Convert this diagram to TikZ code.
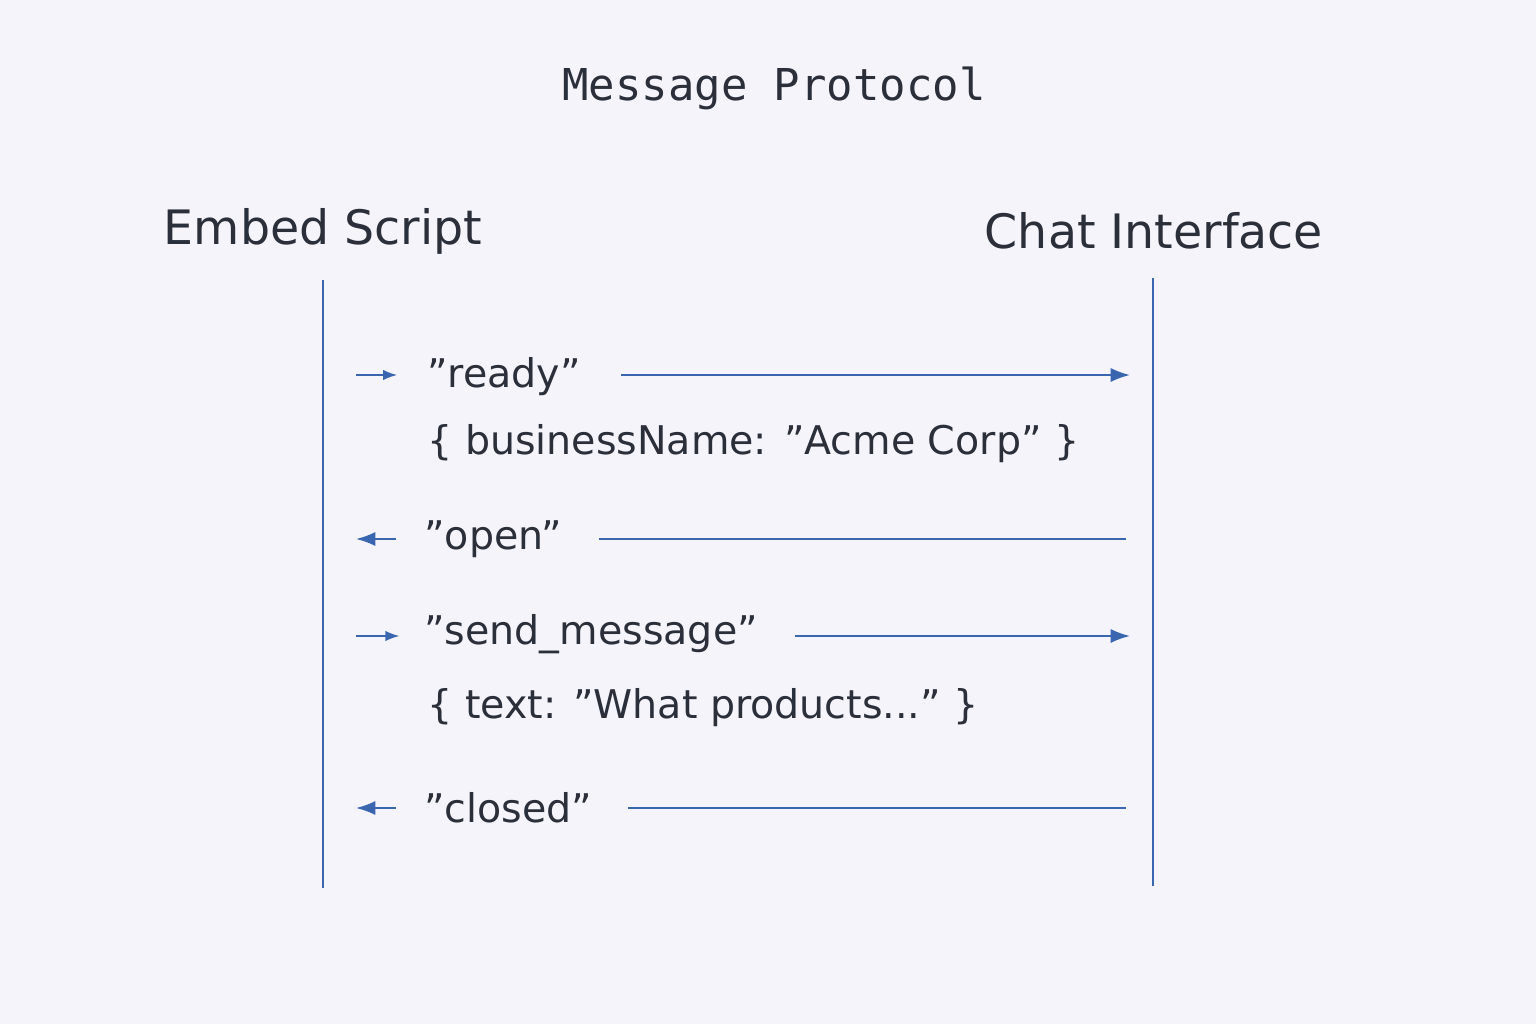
\documentclass[tikz,border=0pt]{standalone}
\usepackage{fontspec}
\setmainfont{DejaVu Sans}
\setmonofont{DejaVu Sans Mono}
\usetikzlibrary{arrows.meta}
\definecolor{bgcol}{HTML}{F4F4FA}
\definecolor{inkcol}{HTML}{2B2F3A}
\definecolor{linecol}{HTML}{3A66B0}
\tikzset{
  lifeline/.style={linecol, line width=1.3pt},
  msg/.style={anchor=west, inner sep=0pt, text=inkcol, font=\fontsize{22.5}{26}\selectfont},
  head/.style={inner sep=0pt, text=inkcol, font=\fontsize{27}{32}\selectfont},
  conn/.style={linecol, line width=1pt},
  tip/.style={conn, -{Latex[length=11pt,width=8pt]}},
  smalltip/.style={conn, -{Latex[length=8pt,width=6pt]}}
}
\begin{document}
\begin{tikzpicture}[x=0.02cm, y=-0.02cm]
  \fill[bgcol] (0,0) rectangle (1536,1024);
  \useasboundingbox (0,0) rectangle (1536,1024);
  % title and headers
  \node[text=inkcol, font=\ttfamily\fontsize{25}{30}\selectfont] (title) at (774,88) {Message Protocol};
  \node[head] (embed) at (323,231) {Embed Script};
  \node[head] (chat) at (1154,231) {Chat Interface};
  % lifelines
  \coordinate (e0) at (323,280);
  \coordinate (e1) at (323,888);
  \coordinate (c0) at (1153,278);
  \coordinate (c1) at (1153,886);
  \draw[lifeline] (e0) -- (e1);
  \draw[lifeline] (c0) -- (c1);
  % messages
  \node[msg] (ready) at (427,377) {"ready"};
  \node[msg] (readyarg) at (427,444) {\{ businessName: "Acme Corp" \}};
  \node[msg] (open) at (424,539) {"open"};
  \node[msg] (send) at (424,634) {"send\_message"};
  \node[msg] (sendarg) at (427,708) {\{ text: "What products..." \}};
  \node[msg] (closed) at (424,808) {"closed"};
  % end points
  \coordinate (r0) at (356,375);
  \coordinate (r1) at (1130,375);
  \coordinate (o0) at (356,539);
  \coordinate (o1) at (1126,539);
  \coordinate (s0) at (356,636);
  \coordinate (s1) at (1130,636);
  \coordinate (d0) at (356,808);
  \coordinate (d1) at (1126,808);
  % connectors
  \draw[smalltip] (r0) -- ([xshift=-17\pgflinewidth]ready.west |- r0);
  \draw[tip] ([xshift=23]ready.east |- r0) -- (r1);
  \draw[tip] ([xshift=-16]open.west |- o0) -- (o0);
  \draw[conn] ([xshift=21]open.east |- o0) -- (o1);
  \draw[smalltip] (s0) -- ([xshift=-14]send.west |- s0);
  \draw[tip] ([xshift=21]send.east |- s0) -- (s1);
  \draw[tip] ([xshift=-16]closed.west |- d0) -- (d0);
  \draw[conn] ([xshift=20]closed.east |- d0) -- (d1);
\end{tikzpicture}
\end{document}
